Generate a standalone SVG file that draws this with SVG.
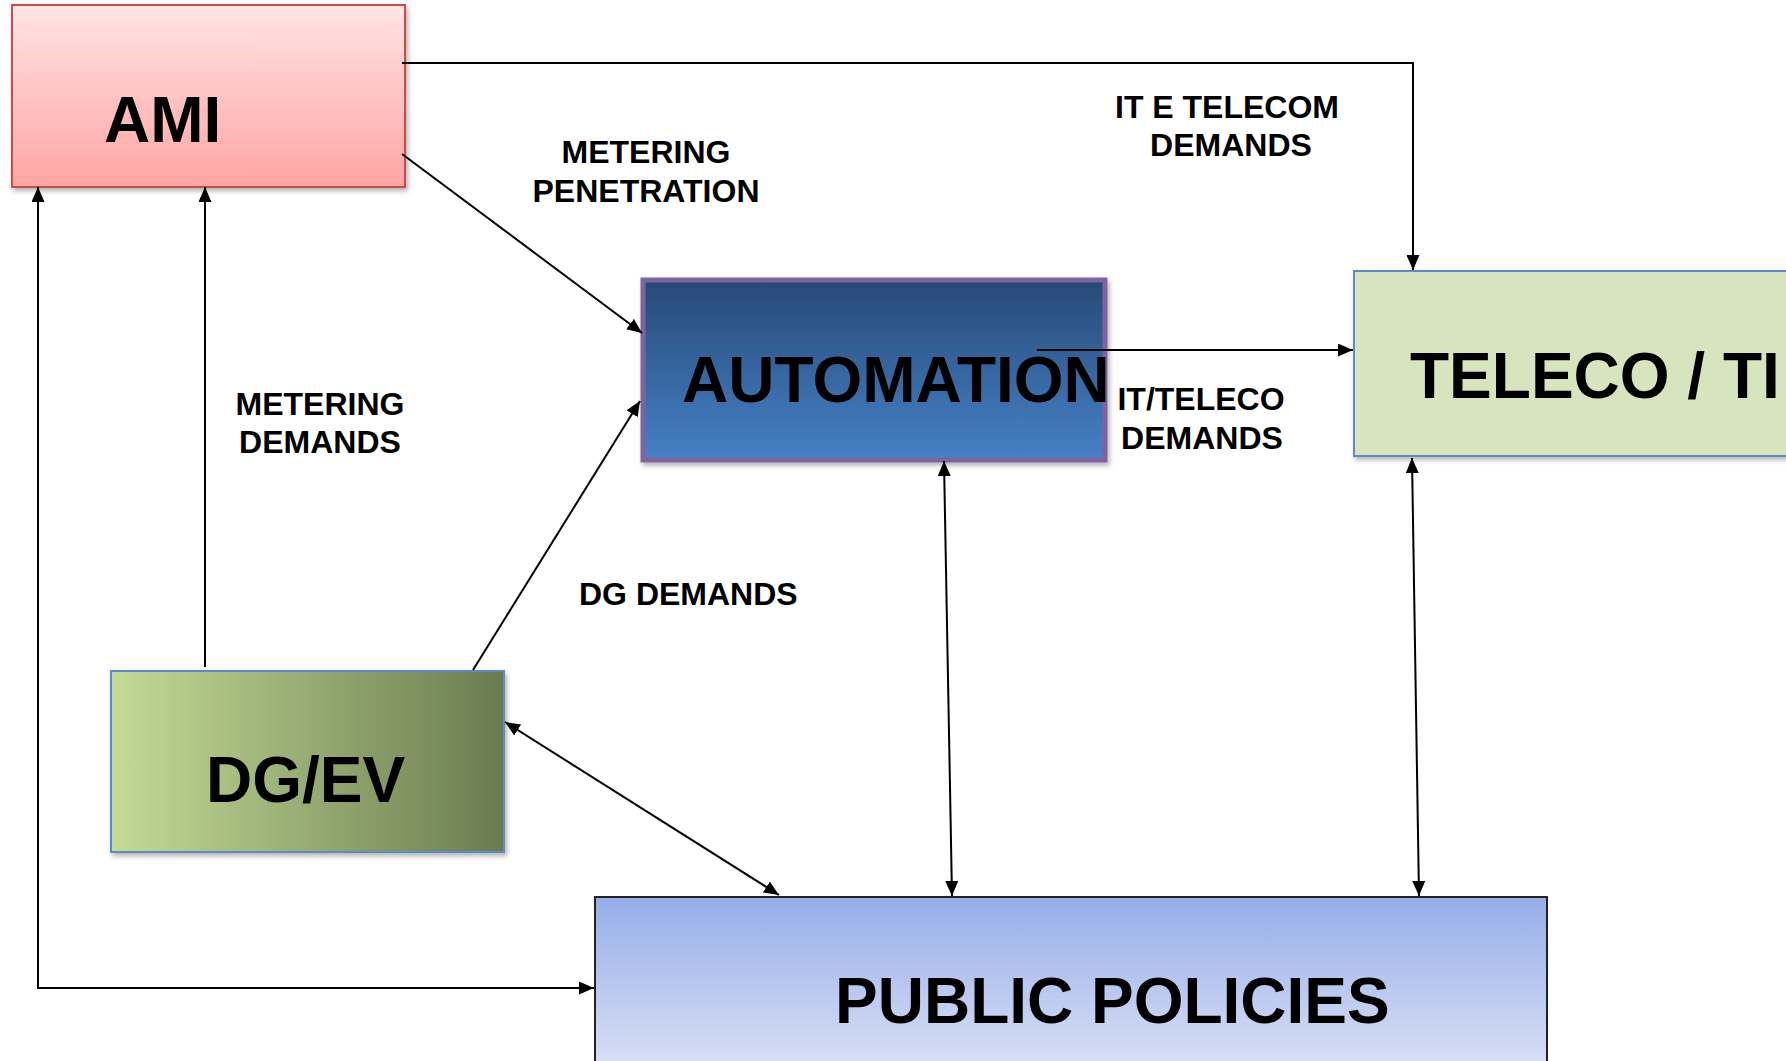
<svg xmlns="http://www.w3.org/2000/svg" width="1786" height="1061" viewBox="0 0 1786 1061">
  <style>
    .node-label { font-family: "Liberation Sans", Arial, sans-serif; font-weight: bold; font-size: 64px; fill: #000; }
    .edge-label { font-family: "Liberation Sans", Arial, sans-serif; font-weight: bold; font-size: 32px; fill: #000; }
    .edge { fill: none; stroke: #000; stroke-width: 2; }
  </style>
  <defs>
    <linearGradient id="gAmi" x1="0" y1="0" x2="0" y2="1">
      <stop offset="0" stop-color="#FFE4E4"/>
      <stop offset="1" stop-color="#FFA4A3"/>
    </linearGradient>
    <linearGradient id="gAuto" x1="0" y1="0" x2="0" y2="1">
      <stop offset="0" stop-color="#274A77"/>
      <stop offset="1" stop-color="#4581C6"/>
    </linearGradient>
    <linearGradient id="gDg" x1="0" y1="0" x2="1" y2="0">
      <stop offset="0" stop-color="#C4DB96"/>
      <stop offset="1" stop-color="#6A7C50"/>
    </linearGradient>
    <linearGradient id="gPub" x1="0" y1="0" x2="0" y2="1">
      <stop offset="0" stop-color="#95ADE8"/>
      <stop offset="1" stop-color="#DDE3F6"/>
    </linearGradient>
    <filter id="shadow" x="-5%" y="-5%" width="115%" height="120%">
      <feDropShadow dx="2" dy="3" stdDeviation="2.5" flood-color="#000" flood-opacity="0.3"/>
    </filter>
    <marker id="arrow" viewBox="0 0 15 13" refX="15" refY="6.5" markerWidth="15" markerHeight="13" markerUnits="userSpaceOnUse" orient="auto-start-reverse">
      <path d="M0,0 L15,6.5 L0,13 Z" fill="#000"/>
    </marker>
  </defs>

  <!-- Nodes -->
  <g id="node-ami">
    <rect x="12" y="5" width="393" height="182" fill="url(#gAmi)" stroke="#C4504E" stroke-width="2" filter="url(#shadow)"/>
    <text class="node-label" x="104" y="142">AMI</text>
  </g>

  <g id="node-automation">
    <rect x="643" y="280" width="462" height="180" fill="url(#gAuto)" stroke="#8062A0" stroke-width="5" filter="url(#shadow)"/>
    <text class="node-label" x="682" y="402" font-size="62">AUTOMATION</text>
  </g>

  <g id="node-teleco">
    <rect x="1354" y="271" width="440" height="185" fill="#D8E4BE" stroke="#5B8BC8" stroke-width="2" filter="url(#shadow)"/>
    <text class="node-label" x="1410" y="398">TELECO / TI</text>
  </g>

  <g id="node-dgev">
    <rect x="111" y="671" width="393" height="181" fill="url(#gDg)" stroke="#5B8BC8" stroke-width="2" filter="url(#shadow)"/>
    <text class="node-label" x="206" y="802">DG/EV</text>
  </g>

  <g id="node-public-policies">
    <rect x="595" y="897" width="952" height="180" fill="url(#gPub)" stroke="#222" stroke-width="2"/>
    <text class="node-label" x="835" y="1023">PUBLIC POLICIES</text>
  </g>

  <!-- Connectors -->
  <g id="connectors">
    <polyline class="edge" points="402,63 1413,63 1413,270" marker-end="url(#arrow)"/>
    <line class="edge" x1="402" y1="154" x2="642" y2="333" marker-end="url(#arrow)"/>
    <line class="edge" x1="205" y1="667" x2="205" y2="187" marker-end="url(#arrow)"/>
    <line class="edge" x1="473" y1="670" x2="640" y2="401" marker-end="url(#arrow)"/>
    <line class="edge" x1="505" y1="722" x2="779" y2="895" marker-start="url(#arrow)" marker-end="url(#arrow)"/>
    <line class="edge" x1="944" y1="461" x2="952" y2="896" marker-start="url(#arrow)" marker-end="url(#arrow)"/>
    <line class="edge" x1="1412" y1="458" x2="1419" y2="896" marker-start="url(#arrow)" marker-end="url(#arrow)"/>
    <line class="edge" x1="1037" y1="350" x2="1353" y2="350" marker-end="url(#arrow)"/>
    <polyline class="edge" points="38,187 38,988 594,988" marker-start="url(#arrow)" marker-end="url(#arrow)"/>

    <text class="edge-label" text-anchor="middle" x="646" y="163">METERING</text>
    <text class="edge-label" text-anchor="middle" x="646" y="202">PENETRATION</text>
    <text class="edge-label" text-anchor="middle" x="1227" y="118">IT E TELECOM</text>
    <text class="edge-label" text-anchor="middle" x="1231" y="156">DEMANDS</text>
    <text class="edge-label" text-anchor="middle" x="320" y="415">METERING</text>
    <text class="edge-label" text-anchor="middle" x="320" y="453">DEMANDS</text>
    <text class="edge-label" text-anchor="middle" x="1201" y="410">IT/TELECO</text>
    <text class="edge-label" text-anchor="middle" x="1202" y="449">DEMANDS</text>
    <text class="edge-label" x="579" y="605">DG DEMANDS</text>
  </g>
</svg>
